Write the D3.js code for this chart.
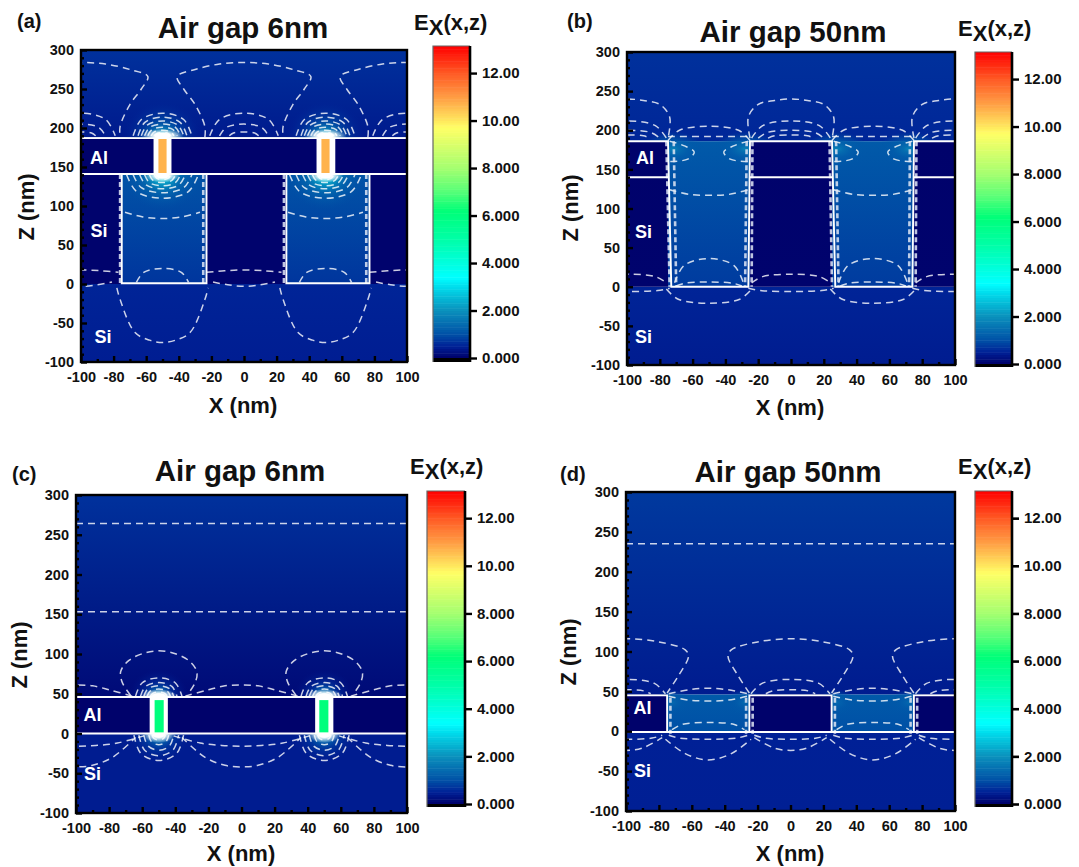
<!DOCTYPE html>
<html>
<head>
<meta charset="utf-8">
<script src="https://cdn.jsdelivr.net/npm/d3@7"></script>
<style>
    html, body {margin: 0; padding: 0; background: #fff;}
    svg {display: block;}
    text {font-family: "Liberation Sans", Arial, sans-serif; font-weight: bold; fill: #111;}
    .tick text {font-size: 14.5px;}
</style>
</head>
<body>
<div id="figure"></div>
<script>
"use strict"

// Shared axis values
const xTicks = [-100, -80, -60, -40, -20, 0, 20, 40, 60, 80, 100];
const zTicks = [-100, -50, 0, 50, 100, 150, 200, 250, 300];
const xMinor = [-90, -70, -50, -30, -10, 10, 30, 50, 70, 90];
const zMinor = [-90, -80, -70, -60, -40, -30, -20, -10, 10, 20, 30, 40, 60, 70, 80, 90, 110, 120, 130, 140, 160, 170, 180, 190, 210, 220, 230, 240, 260, 270, 280, 290];
const barTicks = [0, 2, 4, 6, 8, 10, 12];
const barLabels = ["0.000", "2.000", "4.000", "6.000", "8.000", "10.00", "12.00"];
const barMax = 13.14;

// Colour map
const colorValues = [0, 0.5, 1, 2, 3, 3.4, 5, 6.2, 7, 8, 9.7, 11, 12, 13.14];
const colorStops = ["#000068", "#002096", "#0050a6", "#0a90bc", "#00dcec", "#00ffff", "#00ffa8", "#00ff78", "#55ff78", "#a4ff70", "#ffff66", "#ff9c44", "#ff5a24", "#ff0000"];

const titles = ["Air gap 6nm", "Air gap 50nm", "Air gap 6nm", "Air gap 50nm"];
const tags = ["(a)", "(b)", "(c)", "(d)"];

// Contours repeat with the 100 nm pitch: around the gap centres or around x=0
const atAll = [0];
const atGap = [-50, 50];
const atMid = [-100, 0, 100];

// a dome is read as half width, base height and top height
const dome = (w, z0, zt) => [[-w, z0], [-w * 0.72, z0 + (zt - z0) * 0.72], [0, zt], [w * 0.72, z0 + (zt - z0) * 0.72], [w, z0]];

// Field regions: x0, x1, z top, z bottom, value at top, value at bottom
const fieldA = [
    [-100, 100, 300, 188, 0.68, 0.4],
    [-100, 100, 0, -100, 0.54, 0.46],
    [-100, 100, 187, 141, 0.03, 0.03],
    [-100, -75, 141, 0, 0.05, 0.05], [-23, 26, 141, 0, 0.05, 0.05], [77, 100, 141, 0, 0.05, 0.05],
    [-75, -23, 141, 0, 1.05, 0.72], [26, 77, 141, 0, 1.05, 0.72]
];
const fieldB = [
    [-100, 100, 300, 186, 0.68, 0.56],
    [-100, 100, 0, -100, 0.54, 0.44],
    [-100, -75, 186, 0, 0.03, 0.05], [-25, 25, 186, 0, 0.03, 0.05], [75, 100, 186, 0, 0.03, 0.05],
    [-75, -25, 186, 0, 1.15, 0.78], [25, 75, 186, 0, 1.15, 0.78]
];
const fieldC = [
    [-100, 100, 300, 46, 0.68, 0.16],
    [-100, 100, 0, -100, 0.44, 0.44],
    [-100, 100, 46, 0, 0.03, 0.03]
];
const fieldD = [
    [-100, 100, 300, 46, 0.76, 0.42],
    [-100, 100, 0, -100, 0.5, 0.48],
    [-100, -75, 46, 0, 0.03, 0.03], [-25, 25, 46, 0, 0.03, 0.03], [75, 100, 46, 0, 0.03, 0.03],
    [-75, -25, 46, 0, 1.15, 1.0], [25, 75, 46, 0, 1.15, 1.0]
];

// Glow around hot spots: x, z, radius x, radius z, core value, surrounding value
const glowA = [
    [-50, 189, 24, 46, 3.0, 0.5], [50, 189, 24, 46, 3.0, 0.5],
    [-50, 139, 24, 44, 3.6, 1.0], [50, 139, 24, 44, 3.6, 1.0]
];
const glowB = [
    [-72, 176, 19, 22, 1.8, 1.1], [-28, 176, 19, 22, 1.8, 1.1], [28, 176, 19, 22, 1.8, 1.1], [72, 176, 19, 22, 1.8, 1.1]
];
const glowC = [
    [-50, 47, 18, 34, 2.6, 0.3], [50, 47, 18, 34, 2.6, 0.3],
    [-50, -1, 19, 36, 2.6, 0.45], [50, -1, 19, 36, 2.6, 0.45]
];
const glowD = [
    [-72, 36, 12, 16, 1.4, 1.1], [-28, 36, 12, 16, 1.4, 1.1], [28, 36, 12, 16, 1.4, 1.1], [72, 36, 12, 16, 1.4, 1.1]
];

// White flare at the slot mouths: x, z, radius x, radius z
const flareA = [[-50, 190, 13, 9], [50, 190, 13, 9], [-50, 139, 11, 9], [50, 139, 11, 9]];
const flareB = [];
const flareC = [[-50, 47, 11, 9], [50, 47, 11, 9], [-50, -1, 10, 11], [50, -1, 10, 11]];
const flareD = [];

// White filled slots and the hot core inside them: x0, x1, z0, z1 (core adds its value)
const slotA = [[-55.5, -44.5, 141, 187], [44.5, 56, 141, 187]];
const coreA = [[-52.5, -47.5, 142, 186, 10.7], [47.5, 52.5, 142, 186, 10.7]];
const slotB = [];
const coreB = [];
const slotC = [[-55.5, -44.5, 0, 46], [44.5, 55.5, 0, 46]];
const coreC = [[-52.5, -47, 1, 42, 6.1], [47, 52.5, 1, 42, 6.1]];
const slotD = [];
const coreD = [];

// Solid white boundaries
const solidA = [
    [[-100, 187], [100, 187]], [[-100, 141], [100, 141]],
    [[-75, 141], [-75, 1], [-23, 1], [-23, 141]], [[26, 141], [26, 1], [77, 1], [77, 141]]
];
const solidB = [
    [[-100, 186], [-75, 186], [-73, 0], [-26, 0], [-25, 186], [25, 186], [27, 0], [74, 0], [75, 186], [100, 186]],
    [[-100, 140], [-75, 140]], [[-25, 140], [25, 140]], [[75, 140], [100, 140]]
];
const solidC = [[[-100, 46], [100, 46]], [[-100, 0], [100, 0]]];
const solidD = [
    [[-100, 45], [-75, 45], [-75, -1]], [[-25, -1], [-25, 45], [25, 45], [25, -1]], [[75, -1], [75, 45], [100, 45]],
    [[-100, -1], [100, -1]]
];

// Pale dash clutter along the walls
const wallA = [
    [[-76, 141], [-76, 1]], [[-25, 141], [-25, 1]], [[24.5, 141], [24.5, 1]], [[75, 141], [75, 1]]
];
const wallB = [
    [[-76, 186], [-74, 0]], [[-71.5, 186], [-70, 0]], [[-27, 186], [-28, 0]], [[-23.5, 186], [-24, 0]],
    [[23.5, 186], [25, 0]], [[27.5, 186], [29, 0]], [[72.5, 186], [72, 0]], [[76.5, 186], [76, 0]]
];
const wallC = [];
const wallD = [
    [[-73, 42], [-73, -3]], [[-27, 42], [-27, -3]], [[-23, 42], [-23, -3]],
    [[27, 42], [27, -3]], [[73, 42], [73, -3]], [[77, 42], [77, -3]]
];

// Dashed contour lines: where they repeat and their points
const contourA = [
    [atMid, [[-24, 188], [-24, 202], [-30, 230], [-37, 250], [-41, 266], [-30, 275], [-15, 282], [0, 284], [15, 282], [30, 275], [41, 266], [37, 250], [30, 230], [24, 202], [24, 188]]],
    [atMid, dome(21, 190, 219)], [atMid, dome(15, 190, 205)], [atMid, dome(9, 190, 195)],
    [atGap, dome(18, 190, 219)], [atGap, dome(15, 190, 214)], [atGap, dome(13, 190, 209)], [atGap, dome(11, 190, 205)],
    [atGap, dome(9, 190, 201)], [atGap, dome(7, 190, 197)], [atGap, dome(5, 190, 194)],
    [atGap, dome(22, 140, 110)], [atGap, dome(18, 140, 117)], [atGap, dome(14, 140, 122)], [atGap, dome(11, 140, 126)],
    [atGap, dome(8, 140, 130)], [atGap, dome(5, 140, 134)],
    [atGap, [[-23, 92], [-12, 86], [0, 84], [12, 86], [23, 92]]],
    [atGap, dome(16, 2, 20)],
    [atMid, [[-23, 15], [-12, 17], [0, 18], [12, 17], [23, 15]]],
    [atMid, [[-19, 2.5], [-10, -1], [0, -3], [10, -1], [19, 2.5]]],
    [atGap, [[-28, -5], [-26, -20], [-17, -62], [-8, -72], [0, -75], [8, -72], [17, -62], [26, -20], [28, -5]]]
];
const contourB = [
    [atMid, [[-25, 190], [-26, 217], [-20, 233], [-10, 238], [0, 240], [10, 238], [20, 233], [26, 217], [25, 190]]],
    [atMid, dome(24, 190, 212)], [atMid, dome(20, 190, 200)], [atMid, dome(14, 190, 194)],
    [atGap, dome(25, 187, 205)],
    [atGap, [[-25, 192], [0, 192], [25, 192]]],
    [atGap, [[-24, 186], [-15, 180], [-9, 172], [-13, 163], [-24, 160]]],
    [atGap, [[24, 186], [15, 180], [9, 172], [13, 163], [24, 160]]],
    [atGap, [[-24, 124], [-12, 118], [0, 117], [12, 118], [24, 124]]],
    [atGap, dome(21, 5, 36)], [atGap, dome(20, 1, 6)],
    [atMid, dome(24, 5, 16)], [atMid, dome(26, -2, -6)],
    [atGap, dome(26, -3, -21)]
];
const contourC = [
    [atAll, [[-100, 264], [100, 264]]], [atAll, [[-100, 153], [100, 153]]],
    [atGap, [[-17, 48], [-22, 64], [-23, 78], [-18, 92], [-9, 101], [0, 104], [9, 101], [18, 92], [23, 78], [22, 64], [17, 48]]],
    [atGap, dome(14, 47, 70)], [atGap, dome(11, 47, 64)], [atGap, dome(9, 47, 60)], [atGap, dome(7, 47, 56)], [atGap, dome(5, 47, 52)],
    [atMid, [[-34, 47], [-20, 55], [-10, 60], [0, 61], [10, 60], [20, 55], [34, 47]]],
    [atMid, [[-41, -3], [-25, -12], [-12, -15], [0, -16], [12, -15], [25, -12], [41, -3]]],
    [atMid, [[-36, -5], [-22, -30], [-10, -40], [0, -42], [10, -40], [22, -30], [36, -5]]],
    [atGap, dome(15, -2, -34)], [atGap, dome(12, -2, -28)], [atGap, dome(9, -2, -21)], [atGap, dome(6, -2, -14)], [atGap, dome(4, -2, -8)]
];
const contourD = [
    [atAll, [[-100, 235], [100, 235]]],
    [atMid, [[-25, 48], [-32, 70], [-38, 94], [-36, 102], [-20, 112], [0, 116], [20, 112], [36, 102], [38, 94], [32, 70], [25, 48]]],
    [atMid, dome(24, 47, 65)], [atMid, dome(15, 47, 52)],
    [atGap, [[-24, 47], [-12, 52], [0, 54], [12, 52], [24, 47]]],
    [atGap, [[-24, 44], [-12, 39], [0, 38], [12, 39], [24, 44]]],
    [atGap, dome(22, 2, 11)],
    [atGap, dome(24, -5, -10)],
    [atGap, [[-26, -10], [-14, -28], [0, -36], [14, -28], [26, -10]]],
    [atMid, dome(22, -5, -10)],
    [atMid, [[-22, -8], [-10, -21], [0, -24], [10, -21], [22, -8]]]
];

// Material names and where they sit in nm
const labelA = [["Al", -89, 160], ["Si", -89, 66], ["Si", -86.5, -70]];
const labelB = [["Al", -89, 163], ["Si", -90, 68], ["Si", -90, -66]];
const labelC = [["Al", -90, 22], ["Si", -90, -52]];
const labelD = [["Al", -90, 27], ["Si", -90, -52]];

const fields = [fieldA, fieldB, fieldC, fieldD];
const glows = [glowA, glowB, glowC, glowD];
const flares = [flareA, flareB, flareC, flareD];
const slots = [slotA, slotB, slotC, slotD];
const cores = [coreA, coreB, coreC, coreD];
const solids = [solidA, solidB, solidC, solidD];
const walls = [wallA, wallB, wallC, wallD];
const contours = [contourA, contourB, contourC, contourD];
const labels = [labelA, labelB, labelC, labelD];

// Layout of the four panels in pixels
const layout = [
    {left: 81, right: 407, top: 50, bottom: 362, barL: 433, barR: 470, bar0: 358, barTop: 46, barEnd: 362,
     titleX: 243, titleY: 38, exX: 414, exY: 30, tagX: 17, tagY: 28, xLabelX: 243, xLabelY: 413, zLabelX: 34, zLabelY: 207},
    {left: 627, right: 955, top: 52, bottom: 365, barL: 975, barR: 1012, bar0: 364, barTop: 52, barEnd: 367,
     titleX: 793, titleY: 42, exX: 958, exY: 36, tagX: 567, tagY: 28, xLabelX: 790, xLabelY: 415, zLabelX: 578, zLabelY: 208},
    {left: 76, right: 407, top: 495, bottom: 813, barL: 427, barR: 465, bar0: 804, barTop: 491, barEnd: 807,
     titleX: 240, titleY: 481, exX: 410, exY: 474, tagX: 12, tagY: 481, xLabelX: 241, xLabelY: 861, zLabelX: 27, zLabelY: 655},
    {left: 626, right: 955, top: 492, bottom: 811, barL: 975, barR: 1012, bar0: 804, barTop: 491, barEnd: 807,
     titleX: 788, titleY: 482, exX: 958, exY: 474, tagX: 560, tagY: 481, xLabelX: 790, xLabelY: 861, zLabelX: 576, zLabelY: 652}
];

const color = d3.scaleLinear().domain(colorValues).range(colorStops);

const svg = d3.select("#figure").append("svg")
    .attr("width", 1079)
    .attr("height", 867);
const defs = svg.append("defs");

layout.forEach((box, i) => drawPanel(box, i));

function drawPanel(box, i){
    const xScale = d3.scaleLinear().domain([-100, 100]).range([box.left, box.right]);
    const zScale = d3.scaleLinear().domain([-100, 300]).range([box.bottom, box.top]);

    const clipId = `clip${i}`;
    defs.append("clipPath").attr("id", clipId)
        .append("rect")
            .attr("x", box.left).attr("y", box.top)
            .attr("width", box.right - box.left).attr("height", box.bottom - box.top);

    const plot = svg.append("g").attr("clip-path", `url(#${clipId})`);

    // Field regions, each with its own vertical gradient
    const base = fields[i];
    const isMetal = d => d[4] < 0.1;
    const drawRegion = (d, j, name) => {
        const id = `${name}${i}_${j}`;
        const grad = defs.append("linearGradient").attr("id", id)
            .attr("x1", 0).attr("x2", 0).attr("y1", 0).attr("y2", 1);
        grad.append("stop").attr("offset", 0).attr("stop-color", color(d[4]));
        grad.append("stop").attr("offset", 1).attr("stop-color", color(d[5]));
        plot.append("rect")
            .attr("x", xScale(d[0]))
            .attr("y", zScale(d[2]))
            .attr("width", xScale(d[1]) - xScale(d[0]))
            .attr("height", zScale(d[3]) - zScale(d[2]))
            .attr("fill", `url(#${id})`);
    };
    base.filter(d => !isMetal(d)).forEach((d, j) => drawRegion(d, j, "open"));

    // Glow around the hot spots sits above the open regions, the metal covers it
    glows[i].forEach((d, j) => {
        const id = `glow${i}_${j}`;
        const level = d3.scaleLinear().domain([0, 1]).range([d[5], d[4]]);
        const grad = defs.append("radialGradient").attr("id", id);
        [[0, 1, 1], [0.18, 0.5, 1], [0.5, 0.15, 0.8], [1, 0, 0]].forEach(s => {
            grad.append("stop")
                .attr("offset", s[0])
                .attr("stop-color", color(level(s[1])))
                .attr("stop-opacity", s[2]);
        });
        plot.append("ellipse")
            .attr("cx", xScale(d[0]))
            .attr("cy", zScale(d[1]))
            .attr("rx", xScale(d[2]) - xScale(0))
            .attr("ry", zScale(0) - zScale(d[3]))
            .attr("fill", `url(#${id})`);
    });

    const flareId = `flare${i}`;
    const flareGrad = defs.append("radialGradient").attr("id", flareId);
    flareGrad.append("stop").attr("offset", 0.35).attr("stop-color", "#fff").attr("stop-opacity", 1);
    flareGrad.append("stop").attr("offset", 1).attr("stop-color", "#fff").attr("stop-opacity", 0);
    plot.selectAll(".flare")
        .data(flares[i])
        .enter().append("ellipse")
            .attr("class", "flare")
            .attr("cx", d => xScale(d[0]))
            .attr("cy", d => zScale(d[1]))
            .attr("rx", d => xScale(d[2]) - xScale(0))
            .attr("ry", d => zScale(0) - zScale(d[3]))
            .attr("fill", `url(#${flareId})`);

    base.filter(isMetal).forEach((d, j) => drawRegion(d, j, "metal"));

    plot.selectAll(".slot")
        .data(slots[i])
        .enter().append("rect")
            .attr("class", "slot")
            .attr("x", d => xScale(d[0]))
            .attr("y", d => zScale(d[3]))
            .attr("width", d => xScale(d[1]) - xScale(d[0]))
            .attr("height", d => zScale(d[2]) - zScale(d[3]))
            .attr("fill", "#fff");
    plot.selectAll(".core")
        .data(cores[i])
        .enter().append("rect")
            .attr("class", "core")
            .attr("x", d => xScale(d[0]))
            .attr("y", d => zScale(d[3]))
            .attr("width", d => xScale(d[1]) - xScale(d[0]))
            .attr("height", d => zScale(d[2]) - zScale(d[3]))
            .attr("fill", d => color(d[4]));

    // Dashed contour lines
    const curve = d3.line()
        .x(d => xScale(d[0]))
        .y(d => zScale(d[1]))
        .curve(d3.curveCatmullRom);
    contours[i].forEach(c => {
        c[0].forEach(offset => {
            plot.append("path")
                .attr("d", curve(c[1].map(p => [p[0] + offset, p[1]])))
                .attr("fill", "none")
                .attr("stroke", "#fff")
                .attr("stroke-opacity", 0.8)
                .attr("stroke-width", 1.5)
                .attr("stroke-dasharray", "7,5");
        });
    });

    const straight = d3.line().x(d => xScale(d[0])).y(d => zScale(d[1]));
    plot.selectAll(".wall")
        .data(walls[i])
        .enter().append("path")
            .attr("class", "wall")
            .attr("d", straight)
            .attr("fill", "none")
            .attr("stroke", "#dfe6f5")
            .attr("stroke-opacity", 0.85)
            .attr("stroke-width", 2.6)
            .attr("stroke-dasharray", "5,3");
    plot.selectAll(".solid")
        .data(solids[i])
        .enter().append("path")
            .attr("class", "solid")
            .attr("d", straight)
            .attr("fill", "none")
            .attr("stroke", "#fff")
            .attr("stroke-width", 1.9);

    plot.selectAll(".material")
        .data(labels[i])
        .enter().append("text")
            .attr("class", "material")
            .attr("x", d => xScale(d[1]))
            .attr("y", d => zScale(d[2]))
            .attr("text-anchor", "middle")
            .attr("dominant-baseline", "middle")
            .style("fill", "#fff")
            .style("font-size", "18px")
            .text(d => d[0]);

    // Axes with inward ticks
    svg.append("g")
        .attr("transform", `translate(0, ${box.bottom})`)
        .call(d3.axisBottom(xScale).tickValues(xTicks).tickSize(-6).tickPadding(10).tickFormat(d => String(d)));
    svg.append("g")
        .attr("transform", `translate(${box.left}, 0)`)
        .call(d3.axisLeft(zScale).tickValues(zTicks).tickSize(-6).tickPadding(7).tickFormat(d => String(d)));
    svg.append("g")
        .attr("transform", `translate(0, ${box.bottom})`)
        .call(d3.axisBottom(xScale).tickValues(xMinor).tickSize(-3).tickFormat(""));
    svg.append("g")
        .attr("transform", `translate(${box.left}, 0)`)
        .call(d3.axisLeft(zScale).tickValues(zMinor).tickSize(-3).tickFormat(""));
    svg.selectAll(".domain").remove();
    svg.selectAll(".tick line").attr("stroke", "#000").attr("stroke-width", 2.4);

    svg.append("rect")
        .attr("x", box.left).attr("y", box.top)
        .attr("width", box.right - box.left).attr("height", box.bottom - box.top)
        .attr("fill", "none")
        .attr("stroke", "#000")
        .attr("stroke-width", 2.4);

    drawColorBar(box);

    // Titles and labels
    svg.append("text").attr("x", box.titleX).attr("y", box.titleY)
        .attr("text-anchor", "middle").style("font-size", "29.5px").text(titles[i]);
    svg.append("text").attr("x", box.tagX).attr("y", box.tagY)
        .style("font-size", "20px").text(tags[i]);
    svg.append("text").attr("x", box.xLabelX).attr("y", box.xLabelY)
        .attr("text-anchor", "middle").style("font-size", "22px").text("X (nm)");
    svg.append("text")
        .attr("transform", `translate(${box.zLabelX}, ${box.zLabelY})rotate(-90)`)
        .attr("text-anchor", "middle").style("font-size", "22px").text("Z (nm)");

    const ex = svg.append("text").attr("x", box.exX).attr("y", box.exY).style("font-size", "22px");
    ex.append("tspan").text("E");
    ex.append("tspan").attr("dy", 5).text("X");
    ex.append("tspan").attr("dy", -5).text("(x,z)");
}

function drawColorBar(box){
    const barScale = d3.scaleLinear().domain([0, barMax]).range([box.bar0, box.barTop]);
    const steps = d3.range(0, barMax, 0.1);

    svg.append("g").selectAll("rect")
        .data(steps)
        .enter().append("rect")
            .attr("x", box.barL)
            .attr("y", d => barScale(Math.min(d + 0.1, barMax)))
            .attr("width", box.barR - box.barL)
            .attr("height", d => barScale(d) - barScale(Math.min(d + 0.1, barMax)) + 0.5)
            .attr("fill", d => color(d + 0.05));

    // Black foot of the bar under zero
    svg.append("rect")
        .attr("x", box.barL).attr("y", box.bar0)
        .attr("width", box.barR - box.barL + 1).attr("height", box.barEnd - box.bar0)
        .attr("fill", "#000");

    // Grey on the left and top, black on the right
    svg.append("path")
        .attr("d", `M${box.barL},${box.barEnd}V${box.barTop}H${box.barR}`)
        .attr("fill", "none")
        .attr("stroke", "#666")
        .attr("stroke-width", 1.2);
    svg.append("line")
        .attr("x1", box.barR).attr("x2", box.barR)
        .attr("y1", box.barTop).attr("y2", box.barEnd)
        .attr("stroke", "#000")
        .attr("stroke-width", 2.6);

    const axis = svg.append("g")
        .attr("transform", `translate(${box.barR}, 0)`)
        .call(d3.axisRight(barScale)
            .tickValues(barTicks)
            .tickSize(7)
            .tickPadding(5)
            .tickFormat((d, k) => barLabels[k]));
    axis.select(".domain").remove();
    axis.selectAll(".tick line").attr("stroke", "#000").attr("stroke-width", 2.6);
    axis.selectAll(".tick text").style("font-size", "15px");
}
</script>
</body>
</html>
